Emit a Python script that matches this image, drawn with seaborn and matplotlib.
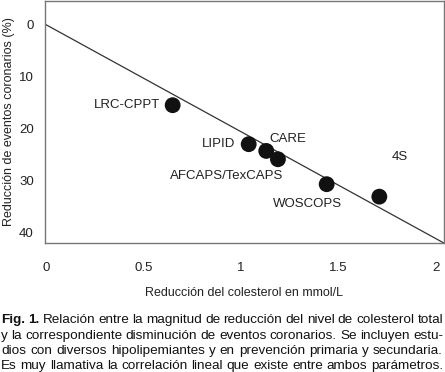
import matplotlib
matplotlib.use("Agg")
import matplotlib.pyplot as plt
import seaborn as sns
import pandas as pd

# datos
estudios = ["LRC-CPPT", "LIPID", "CARE", "AFCAPS/TexCAPS", "WOSCOPS", "4S"]
red_col = [0.65, 1.04, 1.13, 1.19, 1.44, 1.71]
red_eventos = [15.5, 23.0, 24.3, 25.9, 30.7, 33.1]
# posicion de las etiquetas (centro del texto)
etiq_x = [0.415, 0.887, 1.24, 0.928, 1.34, 1.815]
etiq_y = [15.5, 23.0, 22.0, 29.1, 34.5, 25.5]
# recta de correlacion
recta_x = [0, 2.04]
recta_y = [0, 42]
xticks = [0, 0.5, 1, 1.5, 2]
xticklabels = ["0", "0.5", "1", "1.5", "2"]
yticks = [0, 10, 20, 30, 40]

caption = [
    "Fig. 1. Relación entre la magnitud de reducción del nivel de colesterol total",
    "y la correspondiente disminución de eventos coronarios. Se incluyen estu-",
    "dios con diversos hipolipemiantes y en prevención primaria y secundaria.",
    "Es muy llamativa la correlación lineal que existe entre ambos parámetros.",
]

sns.set_style("white")
plt.rcParams['font.family'] = ['Liberation Sans', 'DejaVu Sans']

df = pd.DataFrame({"estudio": estudios, "x": red_col, "y": red_eventos})
df_recta = pd.DataFrame({"x": recta_x, "y": recta_y})

fig = plt.figure(figsize=(4.45, 3.72), dpi=100)
ax = fig.add_axes([0.101, 0.347, 0.896, 0.651])

sns.lineplot(data=df_recta, x="x", y="y", ax=ax, color="#333333", lw=0.9)
sns.scatterplot(data=df, x="x", y="y", ax=ax, color="#111111", s=130,
                edgecolor="none", zorder=3)

for t, lx, ly in zip(estudios, etiq_x, etiq_y):
    ax.text(lx, ly, t, ha="center", va="center", fontsize=9.5, color="#222222")

ax.set_xlim(-0.005, 2.04)
ax.set_ylim(42, -4.6)
ax.set_xticks(xticks)
ax.set_xticklabels(xticklabels)
ax.set_yticks(yticks)
ax.tick_params(axis="y", direction="in", length=4, width=1, color="#e8e060",
               pad=8, labelsize=9.5, labelcolor="#222222")
ax.tick_params(axis="x", length=0, pad=14, labelsize=9.5, labelcolor="#222222")
ax.set_xlabel("Reducción del colesterol en mmol/L", fontsize=9, color="#222222",
              labelpad=9)
ax.set_ylabel("Reducción de eventos coronarios (%)", fontsize=9, color="#222222",
              labelpad=3)
for sp in ax.spines.values():
    sp.set_color("#777777")
    sp.set_linewidth(1)

# pie de figura justificado
fig.canvas.draw()
r = fig.canvas.get_renderer()
x0, x1 = 1, 443
baseline = [323, 339, 354, 369]
fs = 9.7

for i, (linea, yy) in enumerate(zip(caption, baseline)):
    palabras = linea.split(" ")
    objs = []
    for j, w in enumerate(palabras):
        bold = (i == 0 and j < 2)
        objs.append(fig.text(0, 1 - yy / 372, w, fontsize=fs, color="#111111",
                             fontweight="bold" if bold else "normal",
                             va="baseline", ha="left"))
    anchos = [o.get_window_extent(r).width for o in objs]
    hueco = max((x1 - x0 - sum(anchos)) / (len(objs) - 1), 1.5)
    pos = x0
    for o, a in zip(objs, anchos):
        o.set_x(pos / 445)
        pos += a + hueco

fig.savefig("out.png", dpi=100)
